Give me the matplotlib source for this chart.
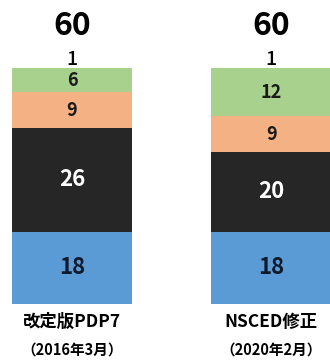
import matplotlib
matplotlib.use("Agg")
import matplotlib.pyplot as plt

plt.rcParams['font.family'] = ['Noto Sans CJK JP', 'DejaVu Sans']

# Capacity mix per plan (bottom to top), total shown above each bar
categories = ["改定版PDP7", "NSCED修正"]
dates = ["（2016年3月）", "（2020年2月）"]
blue = [18, 18]
dark = [26, 20]
orange = [9, 9]
green = [6, 12]
top = [1, 1]
totals = [60, 60]

series = [blue, dark, orange, green, top]
colors = ["#5B9BD5", "#262626", "#F4B183", "#A9D18E", "#FFFFFF"]
text_colors = ["#0E1A2B", "#FFFFFF", "#1A1A1A", "#1A1A1A", "#000000"]
text_sizes = [16, 16, 13, 13, 14]
text_weights = ["bold", "bold", "bold", "bold", "medium"]

fig = plt.figure(figsize=(3.30, 3.63), dpi=100)
ax = fig.add_axes([0, 0, 1, 1])
ax.set_xlim(-0.362, 1.296)
ax.set_ylim(-14.75, 76.0)
ax.axis("off")

x = list(range(len(categories)))
width = 0.603
bottoms = [0] * len(categories)
for k, (vals, col) in enumerate(zip(series, colors)):
    ax.bar(x, vals, width=width, bottom=bottoms, color=col, edgecolor="none")
    for i, v in enumerate(vals):
        if k < 4:
            yc = bottoms[i] + v / 2
        else:
            yc = bottoms[i] + 2.2
        ax.text(x[i], yc, str(v), ha="center", va="center",
                fontsize=text_sizes[k], fontweight=text_weights[k],
                color=text_colors[k])
    bottoms = [b + v for b, v in zip(bottoms, vals)]

for i, t in enumerate(totals):
    ax.text(x[i], t + 9.5, str(t), ha="center", va="center",
            fontsize=23, fontweight="bold", color="#000000")
    ax.text(x[i], -4.5, categories[i], ha="center", va="center",
            fontsize=12.5, fontweight="bold", color="#000000")
    ax.text(x[i], -11.3, dates[i], ha="center", va="center",
            fontsize=10.5, fontweight="bold", color="#000000")

fig.savefig("out.png", dpi=100)
